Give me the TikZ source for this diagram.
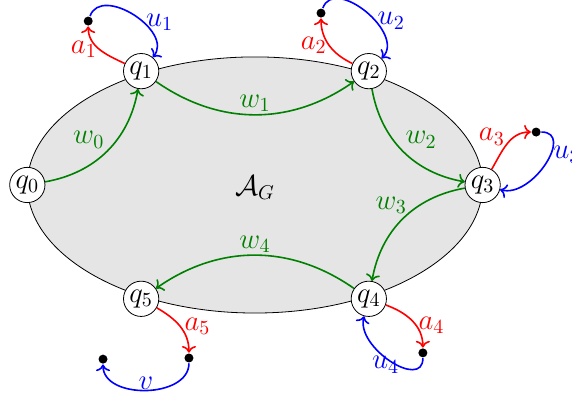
\documentclass[tikz,border=0pt]{standalone}
\usetikzlibrary{arrows.meta}

\begin{document}
\begin{tikzpicture}[>=To, thick, every node/.style={font=\Large},
    state/.style={circle, draw, thin, fill=white, inner sep=0.5pt, minimum size=0.62cm},
    dot/.style={circle, fill, inner sep=0pt, minimum size=4.5pt}]
                \useasboundingbox (-4.48,-3.80) rectangle (5.57,3.25);

                \draw[thin, fill=gray!20] (0,0) ellipse (4 and 2.25);
                \node (ag) at (0,-0.05) {$\mathcal{A}_G$};

                \node[state] (q0) at (-4,0) {$q_0$};
                \node[state] (q1) at (-2,2) {$q_1$};
                \node[state] (q2) at (2,2) {$q_2$};
                \node[state] (q3) at (4,0) {$q_3$};
                \node[state] (q4) at (2,-2) {$q_4$};
                \node[state] (q5) at (-2,-2) {$q_5$};

                \node[dot] (d1) at (-2.93,2.88) {};
                \node[dot] (d2) at (1.16,3.02) {};
                \node[dot] (d3) at (4.94,0.93) {};
                \node[dot] (d4) at (2.95,-2.95) {};
                \node[dot] (d5) at (-1.16,-3.04) {};
                \node[dot] (d6) at (-2.67,-3.06) {};

                % the cycle through the states
                \draw[->, green!50!black] (q0) to[bend right=35] node[midway, above left, inner sep=1pt] {$w_0$} (q1);
                \draw[->, green!50!black] (q1) to[bend right=35] node[midway, above, inner sep=1pt] {$w_1$} (q2);
                \draw[->, green!50!black] (q2) to[bend right=35] node[midway, above right, inner sep=1pt] {$w_2$} (q3);
                \draw[->, green!50!black] (q3) to[bend right=35] node[pos=0.45, above left, inner sep=0pt] {$w_3$} (q4);
                \draw[->, green!50!black] (q4) to[bend right=35] node[midway, above, inner sep=1pt] {$w_4$} (q5);

                % the small loops
                \draw[->, red] (q1) to[out=155, in=-90] node[midway, left, inner sep=1pt] {$a_1$} (d1);
                \draw[->, blue] (d1) to[out=70, in=50, looseness=1.15] node[pos=0.6, right, inner sep=1pt] {$u_1$} (q1);
                \draw[->, red] (q2) to[out=155, in=-90] node[midway, left, inner sep=1pt] {$a_2$} (d2);
                \draw[->, blue] (d2) to[out=70, in=45, looseness=1.15] node[pos=0.6, right, inner sep=1pt] {$u_2$} (q2);
                \draw[->, red] (q3) to[out=60, in=180] node[pos=0.45, above left, inner sep=0pt] {$a_3$} (d3);
                \draw[->, blue] (d3) to[out=0, in=-15, looseness=1.2] node[pos=0.4, right, inner sep=1pt] {$u_3$} (q3);
                \draw[->, red] (q4) to[out=-20, in=90] node[pos=0.6, right, inner sep=1pt] {$a_4$} (d4);
                \draw[->, blue] (d4) to[out=-90, in=-105, looseness=1.15] node[pos=0.55, below, inner sep=-1pt] {$u_4$} (q4);
                \draw[->, red] (q5) to[out=-30, in=90] node[midway, right, inner sep=2pt] {$a_5$} (d5);
                \draw[->, blue] (d5) to[out=-90, in=-90, looseness=1.05] node[midway, above, inner sep=0pt] {$v$} (d6);
            \end{tikzpicture}
\end{document}
